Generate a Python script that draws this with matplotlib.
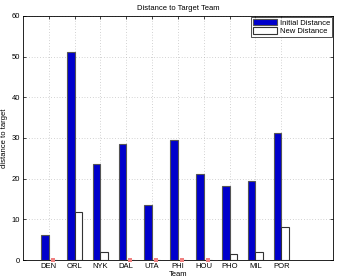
import numpy as np
import matplotlib
matplotlib.use("Agg")
import matplotlib.pyplot as plt

teams = ["DEN", "ORL", "NYK", "DAL", "UTA", "PHI", "HOU", "PHO", "MIL", "POR"]
initial = [6.1, 51.2, 23.6, 28.4, 13.6, 29.6, 21.2, 18.3, 19.3, 31.1]
new = [0.0, 11.9, 2.0, 0.0, 0.0, 0.0, 0.0, 1.5, 2.0, 8.2]

plt.rcParams["font.family"] = ["Liberation Sans", "DejaVu Sans"]

fig = plt.figure(figsize=(3.38, 2.8), dpi=100)
ax = fig.add_axes([0.068, 0.0714, 0.917, 0.872])

x = np.arange(1, len(teams) + 1)
w = 0.3
ax.bar(x - w / 2, initial, width=w, color="#0000cc", edgecolor="#555555",
       linewidth=0.8, label="Initial Distance", zorder=3)
ax.bar(x + w / 2, new, width=w, color="white", edgecolor="#333333",
       linewidth=0.8, label="New Distance", zorder=3)

zero = np.array(new) == 0
ax.plot((x + w / 2)[zero], np.array(new)[zero], "s", color="#f08080",
        markersize=2.5, markeredgewidth=0, zorder=4, clip_on=False)

ax.set_xlim(0, 12)
ax.set_ylim(0, 60)
ax.set_xticks(x)
ax.set_xticklabels(teams)
ax.set_yticks(range(0, 61, 10))
ax.tick_params(direction="in", top=True, right=True, labelsize=5.5,
               length=2, width=0.5, pad=2)
ax.grid(True, linestyle=(0, (1, 3)), color="#aaaaaa", linewidth=0.5, zorder=0)
for s in ax.spines.values():
    s.set_linewidth(0.6)

ax.set_title("Distance to Target Team", fontsize=5.5, pad=4)
ax.set_xlabel("Team", fontsize=5.5, labelpad=1)
ax.set_ylabel("distance to target", fontsize=5.5, labelpad=3)

leg = ax.legend(loc="upper right", fontsize=5.5, frameon=True, fancybox=False,
                borderaxespad=0.15, handlelength=3.2, handleheight=0.9,
                handletextpad=0.3, borderpad=0.25, labelspacing=0.1)
leg.get_frame().set_edgecolor("black")
leg.get_frame().set_linewidth(0.6)

fig.savefig("out.png", dpi=100)
